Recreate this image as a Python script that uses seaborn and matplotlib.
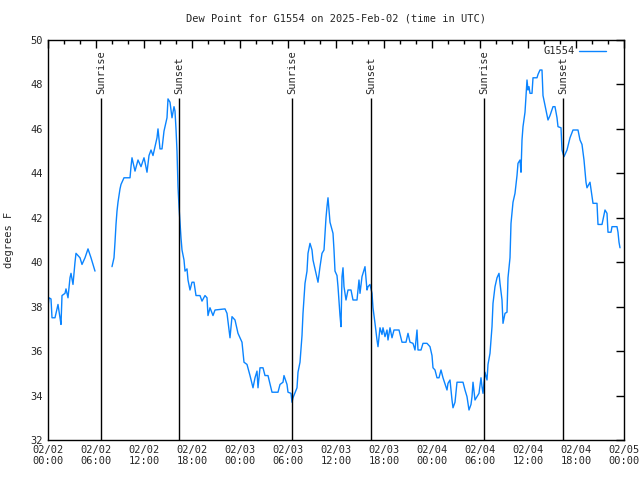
import numpy as np
import pandas as pd
import matplotlib
matplotlib.use('Agg')
import matplotlib.pyplot as plt
import matplotlib.dates as mdates
import seaborn as sns

# Dados (horas desde 2025-02-02 00:00 UTC, ponto de orvalho em F)
horas = [0.0, 0.125, 0.375, 0.5, 0.875, 1.25, 1.5, 1.625, 1.75, 2.125, 2.25, 2.5, 2.75, 2.875,
         3.125, 3.375, 3.5, 4.0, 4.25, 4.625, 5.0, 5.375, 5.625, 5.875,
         7.0,
         8.0, 8.25, 8.375, 8.5, 8.625, 8.75, 9.0, 9.125, 9.5, 10.25, 10.375, 10.5, 10.875, 11.25,
         11.625, 12.0, 12.125, 12.375, 12.625, 12.875, 13.125, 13.625, 13.75, 14.0, 14.25, 14.5,
         14.875, 15.0, 15.25, 15.5, 15.75, 15.875, 16.0, 16.125, 16.25, 16.375, 16.5, 16.625,
         16.75, 17.0, 17.125, 17.375, 17.5, 17.75, 18.0, 18.25, 18.5, 19.0, 19.25, 19.625, 19.875,
         20.0, 20.25, 20.625, 20.875, 22.125, 22.375, 22.75, 23.0, 23.375, 23.75, 24.0, 24.25,
         24.5, 24.875, 25.25, 25.625, 25.875, 26.125, 26.25, 26.5, 26.875, 27.125, 27.5, 28.0,
         28.75, 29.0, 29.375, 29.5, 29.875, 30.0, 30.375, 30.5, 30.625, 31.125, 31.25, 31.5,
         31.75, 31.875, 32.125, 32.375, 32.5, 32.75, 33.0, 33.125, 33.5, 33.75, 34.0, 34.25,
         34.5, 34.75, 34.875, 35.0, 35.25, 35.625, 35.75, 35.875, 36.125, 36.25, 36.5, 36.625,
         36.75, 36.875, 37.0, 37.25, 37.5, 37.875, 38.125, 38.625, 38.875, 39.0, 39.25, 39.625,
         39.875, 40.0, 40.25, 40.5, 40.625, 40.875, 41.125, 41.25, 41.5, 41.75, 41.875, 42.125,
         42.375, 42.5, 42.75, 43.0, 43.25, 43.875, 44.25, 44.75, 45.0, 45.25, 45.625, 45.875,
         46.125, 46.25, 46.625, 46.875, 47.375, 47.75, 48.0, 48.125, 48.375, 48.625, 48.875,
         49.125, 49.375, 49.875, 50.0, 50.25, 50.5, 50.625, 50.875, 51.125, 51.875, 52.125,
         52.375, 52.625, 52.875, 53.0, 53.125, 53.375, 53.625, 53.875, 54.125, 54.25, 54.375,
         54.625, 54.875, 55.0, 55.25, 55.5, 55.625, 55.875, 56.125, 56.375, 56.5, 56.75, 56.875,
         57.125, 57.375, 57.5, 57.75, 57.875, 58.125, 58.375, 58.625, 58.75, 59.0, 59.125, 59.25,
         59.375, 59.625, 59.875, 60.0, 60.125, 60.25, 60.5, 60.625, 61.125, 61.25, 61.5, 61.75,
         61.875, 62.125, 62.375, 62.5, 62.75, 63.125, 63.375, 63.625, 63.75, 64.125, 64.25, 64.5,
         64.875, 65.25, 65.625, 66.25, 66.5, 66.75, 67.0, 67.25, 67.375, 67.75, 68.0, 68.125,
         68.625, 68.75, 69.25, 69.625, 69.875, 70.0, 70.375, 70.5, 71.125, 71.25, 71.375, 71.5]

orvalho = [38.0, 38.4, 38.35, 37.5, 37.5, 38.1, 37.5, 37.2, 38.5, 38.6, 38.8, 38.4, 39.3, 39.5,
           39.0, 40.0, 40.4, 40.2, 39.9, 40.2, 40.6, 40.2, 39.9, 39.6,
           np.nan,
           39.8, 40.2, 40.9, 41.7, 42.3, 42.7, 43.3, 43.5, 43.8, 43.8, 44.3, 44.7, 44.1, 44.6,
           44.3, 44.7, 44.5, 44.05, 44.8, 45.05, 44.8, 45.6, 46.0, 45.1, 45.1, 45.9,
           46.5, 47.35, 47.2, 46.5, 47.0, 46.8, 46.0, 45.0, 43.4, 42.5, 41.8, 41.1,
           40.55, 40.1, 39.6, 39.7, 39.2, 38.75, 39.1, 39.1, 38.5, 38.5, 38.25, 38.5, 38.4,
           37.6, 37.95, 37.6, 37.85, 37.9, 37.7, 36.6, 37.55, 37.4, 36.8, 36.6, 36.4,
           35.5, 35.4, 34.9, 34.35, 34.8, 35.1, 34.35, 35.25, 35.25, 34.9, 34.9, 34.15,
           34.15, 34.5, 34.6, 34.9, 34.5, 34.15, 34.1, 33.7, 33.9, 34.35, 35.05, 35.5,
           36.7, 37.7, 39.05, 39.6, 40.4, 40.85, 40.55, 40.1, 39.5, 39.1, 39.8, 40.4,
           40.55, 42.0, 42.5, 42.9, 41.8, 41.3, 40.55, 39.6, 39.4, 38.9, 37.6, 37.1,
           39.35, 39.75, 38.9, 38.3, 38.75, 38.75, 38.3, 38.3, 39.2, 38.6, 39.35, 39.8,
           38.75, 38.9, 39.0, 38.6, 37.95, 37.25, 36.5, 36.2, 37.05, 36.75, 37.05, 36.65,
           36.95, 36.5, 37.05, 36.6, 36.95, 36.95, 36.4, 36.4, 36.8, 36.4, 36.35, 36.05,
           36.95, 36.05, 36.05, 36.35, 36.35, 36.2, 35.8, 35.25, 35.15, 34.8, 34.8,
           35.15, 34.8, 34.25, 34.55, 34.7, 33.8, 33.45, 33.7, 34.6, 34.6, 34.25,
           33.95, 33.35, 33.6, 33.95, 34.6, 33.8, 33.95, 34.1, 34.8, 34.4, 34.1,
           35.05, 34.7, 35.4, 35.9, 37.1, 38.15, 38.9, 39.3, 39.5, 39.05, 38.3, 37.25,
           37.7, 37.75, 39.3, 40.2, 41.75, 42.7, 43.1, 43.9, 44.45, 44.6, 44.05, 45.5,
           46.1, 46.75, 48.2, 47.75, 47.9, 47.6, 47.6, 48.3, 48.3, 48.45, 48.65, 48.65,
           47.5, 47.05, 46.6, 46.4, 46.6, 47.0, 47.0, 46.5, 46.1, 46.05, 45.05, 44.75,
           45.05, 45.6, 45.95, 45.95, 45.5, 45.3, 44.6, 43.6, 43.35, 43.6, 42.95, 42.65,
           42.65, 41.7, 41.7, 42.35, 42.2, 41.35, 41.35, 41.6, 41.6, 41.35, 40.9, 40.65]

# Nascer e por do sol (UTC)
eventos = ['Sunrise', 'Sunset', 'Sunrise', 'Sunset', 'Sunrise', 'Sunset']
eventos_horas = [6.6, 16.375, 30.55, 40.375, 54.5, 64.375]

inicio = pd.Timestamp('2025-02-02 00:00')
df = pd.DataFrame({'time': inicio + pd.to_timedelta(horas, unit='h'), 'dewpoint': orvalho})
# separa em segmentos onde faltam dados
df['segmento'] = df['dewpoint'].isna().cumsum()
df = df.dropna()

sns.set_style('white')
plt.rcParams['font.family'] = ['DejaVu Sans Mono']
fs = 7.5

fig = plt.figure(figsize=(6.4, 4.8), dpi=100)
ax = fig.add_axes([48 / 640, 40 / 480, 576 / 640, 400 / 480])

sns.lineplot(data=df, x='time', y='dewpoint', units='segmento', estimator=None,
             color='#0a84ff', linewidth=1.0, label='G1554', ax=ax)

# linhas de nascer/por do sol
for nome, h in zip(eventos, eventos_horas):
    t = inicio + pd.Timedelta(hours=h)
    ax.vlines(t, 32, 47.4, color='black', linewidth=1.0)
    ax.text(t, 47.55, nome, rotation=90, ha='center', va='bottom', fontsize=fs)

ax.set_xlim(inicio, inicio + pd.Timedelta(hours=72))
ax.set_ylim(32, 50)
ax.set_yticks(range(32, 51, 2))
ax.xaxis.set_major_locator(mdates.HourLocator(byhour=[0, 6, 12, 18]))
ax.xaxis.set_minor_locator(mdates.HourLocator(interval=2))
ax.xaxis.set_major_formatter(mdates.DateFormatter('%m/%d\n%H:%M'))
ax.tick_params(axis='both', which='both', direction='in', top=True, right=True,
               labelsize=fs, color='black')
ax.tick_params(which='major', length=6, width=1)
ax.tick_params(which='minor', length=3, width=1)
for s in ax.spines.values():
    s.set_color('black')
    s.set_linewidth(1)

ax.set_xlabel('')
ax.set_ylabel('degrees F', fontsize=fs, labelpad=12)
ax.set_title('Dew Point for G1554 on 2025-Feb-02 (time in UTC)', fontsize=fs, pad=13)

handles, labels = ax.get_legend_handles_labels()
ax.legend(handles[:1], labels[:1], loc='upper right', bbox_to_anchor=(1 - 12 / 576, 1),
          frameon=False, markerfirst=False, fontsize=fs, handlelength=2.6,
          handletextpad=0.4, borderaxespad=0.2)

fig.savefig('out.png', dpi=100)
